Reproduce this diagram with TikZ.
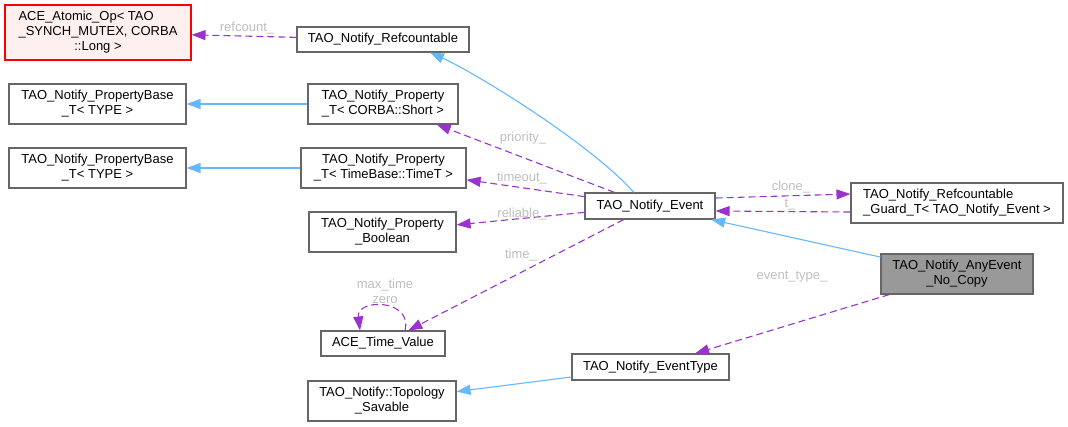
\documentclass[tikz,border=0pt]{standalone}
\usepackage{fontspec}
\setmainfont{Liberation Sans}
\usepackage{calc}
\usetikzlibrary{arrows.meta,calc}

\definecolor{edgepurple}{HTML}{9A32CD}
\definecolor{edgeblue}{HTML}{63B8FF}
\definecolor{boxgray}{HTML}{666666}
\definecolor{labelgray}{HTML}{BEBEBE}
\definecolor{selgray}{HTML}{999999}
\definecolor{pinkfill}{HTML}{FFF0F0}

\begin{document}
\begin{tikzpicture}[x=1pt, y=-1pt,
    cls/.style={draw=boxgray, fill=white, line width=1.1pt, inner sep=0pt, align=center, font=\fontsize{13}{15}\selectfont},
    member/.style={edgepurple, line width=1.1pt, dash pattern=on 7pt off 4pt, -{Triangle[length=14pt,width=10pt]}},
    inherit/.style={edgeblue, line width=1.1pt, -{Triangle[length=14pt,width=10pt]}},
    lbl/.style={labelgray, inner sep=0pt, align=center, font=\fontsize{13}{15}\selectfont}]
            \useasboundingbox (0,0) rectangle (1068,426);

            % left column
            \node[cls, draw=red, fill=pinkfill, minimum width=186, minimum height=55] (atomic) at (98,32.5)
                {\makebox[\widthof{\_SYNCH\_MUTEX, CORBA}][l]{ACE\_Atomic\_Op< TAO}\\\_SYNCH\_MUTEX, CORBA\\::Long >};
            \node[cls, minimum width=177, minimum height=40] (pbasea) at (97.5,104) {TAO\_Notify\_PropertyBase\\\_T< TYPE >};
            \node[cls, minimum width=177, minimum height=40] (pbaseb) at (97.5,168) {TAO\_Notify\_PropertyBase\\\_T< TYPE >};

            % middle column
            \node[cls, minimum width=172, minimum height=25] (refc) at (383,39.5) {TAO\_Notify\_Refcountable};
            \node[cls, minimum width=150, minimum height=40] (propshort) at (383,104) {TAO\_Notify\_Property\\\_T< CORBA::Short >};
            \node[cls, minimum width=165, minimum height=40] (proptime) at (383.5,168) {TAO\_Notify\_Property\\\_T< TimeBase::TimeT >};
            \node[cls, minimum width=147, minimum height=40] (propbool) at (382.5,232) {TAO\_Notify\_Property\\\_Boolean};
            \node[cls, minimum width=124, minimum height=25] (timeval) at (383,343.5) {ACE\_Time\_Value};
            \node[cls, minimum width=148, minimum height=40] (topo) at (382,401) {TAO\_Notify::Topology\\\_Savable};

            % right part
            \node[cls, minimum width=130, minimum height=26] (event) at (650,206) {TAO\_Notify\_Event};
            \node[cls, minimum width=157, minimum height=26] (evtype) at (650.5,367) {TAO\_Notify\_EventType};
            \node[cls, align=left, minimum width=212, minimum height=40] (guard) at (957,203) {TAO\_Notify\_Refcountable\\\_Guard\_T< TAO\_Notify\_Event >};
            \node[cls, fill=selgray, minimum width=152, minimum height=40] (anyev) at (957,274) {TAO\_Notify\_AnyEvent\\\_No\_Copy};

            % inheritance
            \draw[inherit] (propshort) -- (pbasea);
            \draw[inherit] (proptime) -- (pbaseb);
            \draw[inherit] ($(event.north)+(-16,0)$) .. controls +(-45,-50) and +(45,20) .. ($(refc.south)+(47,0)$);
            \draw[inherit] (anyev) -- (event);
            \draw[inherit] (evtype) -- (topo);

            % members
            \draw[member] (refc) -- (atomic) node[lbl] at (247,28) {refcount\_};
            \draw[member] (event) -- (propshort) node[lbl] at (523,138) {priority\_};
            \draw[member] (event) -- (proptime) node[lbl] at (522,178) {timeout\_};
            \draw[member] (event) -- (propbool) node[lbl] at (522,214) {reliable\_};
            \draw[member] (event) -- (timeval) node[lbl] at (521,255) {time\_};
            \draw[member] ($(timeval.north)+(22,0)$) .. controls +(8,-32) and +(-4,-32) .. ($(timeval.north)+(-23,0)$)
                node[lbl] at (385,291) {max\_time\\zero};
            \draw[member] ($(event.east)+(0,-8)$) -- ($(guard.west)+(0,-9)$) node[lbl] at (791,187) {clone\_};
            \draw[member] ($(guard.west)+(0,9)$) -- ($(event.east)+(0,5)$) node[lbl] at (790,205) {t\_};
            \draw[member] (anyev) -- (evtype) node[lbl] at (792,277) {event\_type\_};
        \end{tikzpicture}
\end{document}
